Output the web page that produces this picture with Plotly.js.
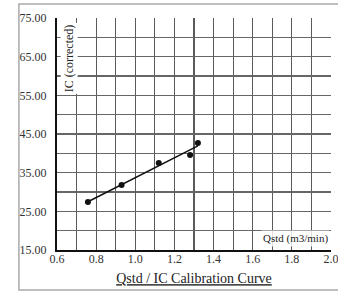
<!DOCTYPE html>
<html><head><meta charset="utf-8">
<script src="https://cdn.plot.ly/plotly-3.0.1.min.js"></script>
<style>html,body{margin:0;padding:0;background:#fff}#c{width:338px;height:295px}</style>
</head><body><div id="c"></div>
<script>
const qstd = [0.758, 0.93, 1.12, 1.28, 1.32];
const icCorrected = [27.4, 31.8, 37.5, 39.6, 42.7];
const xTicks = [0.6, 0.8, 1.0, 1.2, 1.4, 1.6, 1.8, 2.0];
const xTickText = ['0.6', '0.8', '1.0', '1.2', '1.4', '1.6', '1.8', '2.0'];
const yTicks = [15, 25, 35, 45, 55, 65, 75];
const yTickText = ['15.00', '25.00', '35.00', '45.00', '55.00', '65.00', '75.00'];

// least-squares trendline through the data
const n = qstd.length;
const mx = qstd.reduce((a, b) => a + b, 0) / n;
const my = icCorrected.reduce((a, b) => a + b, 0) / n;
let sxy = 0, sxx = 0;
for (let i = 0; i < n; i++) { sxy += (qstd[i] - mx) * (icCorrected[i] - my); sxx += (qstd[i] - mx) ** 2; }
const slope = sxy / sxx, intercept = my - slope * mx;
const xMin = Math.min(...qstd), xMax = Math.max(...qstd);
const fitX = [xMin, xMax];
const fitY = fitX.map(x => intercept + slope * x);

const serif = 'Liberation Serif, Times New Roman, serif';
const data = [
  {x: fitX, y: fitY, mode: 'lines', line: {color: '#111', width: 1.5}, hoverinfo: 'skip', showlegend: false},
  {x: qstd, y: icCorrected, mode: 'markers', marker: {color: '#111', size: 6}, showlegend: false}
];
const gc = '#5a5a5a';
const layout = {
  width: 338, height: 295,
  margin: {l: 57, r: 7, t: 18, b: 45},
  paper_bgcolor: '#fff', plot_bgcolor: '#fff',
  font: {family: serif, color: '#222', size: 12},
  xaxis: {
    range: [0.6, 2.0], tickvals: xTicks, ticktext: xTickText, ticks: '',
    showline: true, linecolor: '#111', linewidth: 2, zeroline: false,
    gridcolor: gc, gridwidth: 1.2,
    tickfont: {family: serif, size: 12, color: '#333'}, ticklabelstandoff: -3,
    ticklabeloverflow: 'allow',
    minor: {dtick: 0.1, tick0: 0.6, showgrid: true, gridcolor: gc, gridwidth: 1.2},
    title: {text: 'Qstd / IC Calibration Curve', font: {family: serif, size: 14, color: '#222', lineposition: 'under'}, standoff: 8}
  },
  yaxis: {
    range: [15, 75], tickvals: yTicks, ticktext: yTickText, ticks: '',
    showline: true, linecolor: '#111', linewidth: 2, zeroline: false,
    gridcolor: '#666', gridwidth: 1.1,
    tickfont: {family: serif, size: 12, color: '#333'}, ticklabelstandoff: 6,
    minor: {dtick: 5, tick0: 15, showgrid: true, gridcolor: '#666', gridwidth: 1.1}
  },
  annotations: [
    {x: 0.66, y: 64.5, xref: 'x', yref: 'y', text: 'IC (corrected)', textangle: -90, showarrow: false,
     font: {family: serif, size: 12, color: '#222'}, bgcolor: '#fff'},
    {x: 1.64, y: 18, xref: 'x', yref: 'y', xanchor: 'left', text: 'Qstd (m3/min)', showarrow: false,
     font: {family: serif, size: 11, color: '#222'}, bgcolor: 'rgba(255,255,255,0.8)'}
  ],
  shapes: [
    {type: 'rect', xref: 'paper', yref: 'paper', x0: -0.139, x1: 1.2, y0: -0.172, y1: 1.06,
     line: {color: '#aaa', width: 1.5}, layer: 'below'}
  ]
};
Plotly.newPlot('c', data, layout, {staticPlot: true, displayModeBar: false});
</script></body></html>
